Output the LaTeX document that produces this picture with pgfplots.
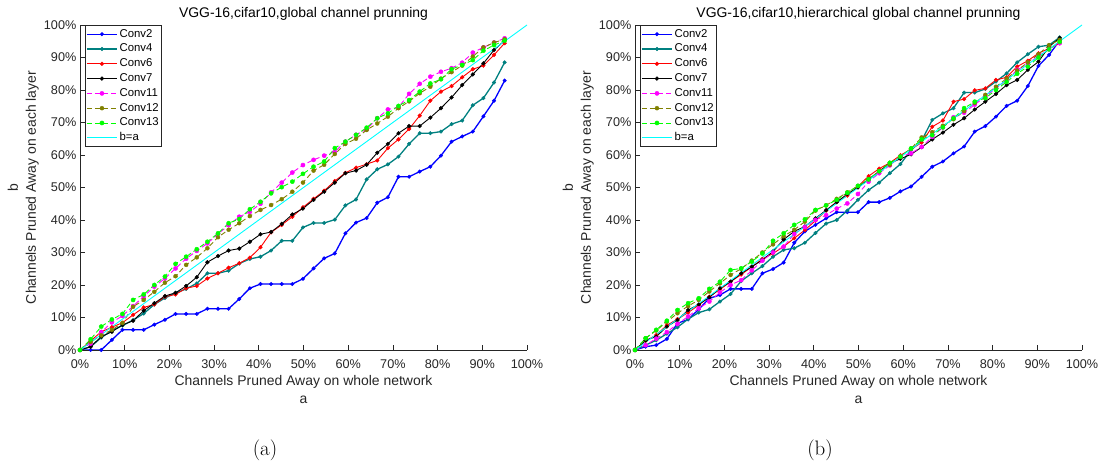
\documentclass[border=0pt]{standalone}
\usepackage{pgfplots}
\pgfplotsset{compat=1.18}
\usepackage{pgfplotstable}
\usepackage{fontspec}
\newfontfamily\arial{Liberation Sans}
\definecolor{axgray}{RGB}{38,38,38}
\definecolor{cteal}{RGB}{0,128,128}
\definecolor{colive}{RGB}{128,128,0}
\definecolor{cgreen}{RGB}{0,255,0}
\definecolor{cmag}{RGB}{255,0,255}
\definecolor{ccyan}{RGB}{0,255,255}

\pgfplotstableread{
x c2 c4 c6 c7 c11 c12 c13
0 0 0 0 0 0 0 0
2.375 0 1.0 2.8 1.0 2.0 2.5 3.3
4.75 0 3.8 5.6 4.1 5.5 4.5 7.2
7.125 3.1 6.0 7.0 5.6 8.5 6.2 9.4
9.5 6.2 7.5 8.4 7.7 10.5 8.3 11.1
11.875 6.2 9.2 10.8 9.0 13.5 13.3 15.4
14.25 6.2 11.2 13.1 12.1 16.5 15.4 17.1
16.625 7.8 14.0 14.0 14.4 19.5 17.9 20.0
19 9.3 16.0 16.4 16.6 22.0 20.7 22.6
21.375 11.1 17.5 17.1 17.6 25.1 22.7 26.5
23.75 11.1 18.8 19.0 19.7 28.1 26.2 28.7
26.125 11.1 20.5 19.7 22.4 30.5 28.5 31.0
28.5 12.7 23.6 22.0 27.0 32.8 31.3 33.3
30.875 12.7 23.6 23.6 28.9 35.7 34.7 35.9
33.25 12.7 24.4 25.3 30.6 38.4 37.0 39.0
35.625 15.7 26.6 26.7 31.2 41.0 39.0 40.3
38 19.0 28.0 28.4 33.3 42.5 41.2 43.3
40.375 20.3 28.7 31.6 35.6 45.0 43.1 45.6
42.75 20.3 30.6 36.2 36.3 48.5 44.6 48.2
45.125 20.3 33.6 38.5 38.8 51.5 46.4 50.1
47.5 20.3 33.6 41.0 41.7 54.6 48.7 51.8
49.875 21.9 37.7 43.9 43.5 56.9 51.5 54.2
52.25 25.1 39.1 46.5 46.2 58.5 55.2 56.4
54.625 28.2 39.1 49.0 48.7 59.8 57.0 58.0
57 29.7 40.1 52.0 51.5 61.0 60.3 62.1
59.375 35.9 44.5 54.5 54.4 64.1 63.4 64.1
61.75 39.2 46.3 56.1 55.2 66.2 65.0 66.2
64.125 40.6 52.5 57.2 57.0 67.9 67.7 68.4
66.5 45.3 55.6 58.3 60.7 71.3 69.7 71.3
68.875 47.0 57.1 62.1 63.4 74.0 71.8 72.8
71.25 53.3 59.5 64.8 66.7 74.7 74.4 75.1
73.625 53.3 63.4 68.0 68.9 78.8 76.5 76.9
76 54.9 66.7 72.1 68.9 81.9 79.0 79.5
78.375 56.4 66.7 76.7 71.5 84.1 81.0 82.0
80.75 59.8 67.2 79.5 74.4 85.6 83.5 83.3
83.125 64.1 69.5 81.2 77.7 86.7 85.5 86.4
85.5 65.7 70.6 83.9 81.5 88.4 87.5 87.7
87.875 67.2 75.3 86.4 84.8 91.5 90.3 89.2
90.25 71.9 77.5 87.5 88.2 93.1 93.1 92.1
92.625 76.7 82.3 90.8 92.3 94.6 94.6 93.8
95 82.9 88.5 94.4 95.2 95.9 95.6 95.2
}\leftdata

\pgfplotstableread{
x c2 c4 c6 c7 c11 c12 c13
0 0 0 0 0 0 0 0
2.375 1.0 1.5 2.8 3.0 1.5 3.6 3.6
4.75 1.5 3.0 4.6 4.1 3.5 6.0 6.2
7.125 3.4 5.0 7.6 7.2 5.5 8.7 9.0
9.5 8.2 7.0 9.5 9.2 8.0 11.3 12.3
11.875 9.4 9.5 11.5 12.3 10.3 13.5 14.4
14.25 12.5 11.5 13.8 14.0 12.8 15.4 15.9
16.625 15.9 12.5 16.4 16.2 14.9 18.0 18.8
19 16.9 14.9 18.6 19.0 17.7 20.5 21.0
21.375 18.8 17.2 21.0 21.0 20.0 23.1 24.6
23.75 18.8 21.2 23.2 23.6 21.5 25.0 25.1
26.125 18.8 23.6 25.6 25.6 24.5 27.5 27.2
28.5 23.6 25.8 28.0 27.7 27.5 30.0 29.7
30.875 24.9 28.7 29.7 30.3 30.0 32.5 33.6
33.25 26.9 30.8 31.8 34.0 31.8 35.0 35.9
35.625 33.0 31.3 34.4 36.5 35.7 37.0 38.5
38 36.5 33.0 36.9 38.0 37.8 39.5 40.2
40.375 38.5 36.0 39.8 40.5 40.0 42.9 43.1
42.75 40.5 38.9 42.9 43.0 41.5 44.5 44.5
45.125 42.4 40.0 45.6 45.5 43.5 46.5 46.2
47.5 42.4 42.9 47.5 48.0 45.1 48.5 48.4
49.875 42.4 46.2 50.3 50.0 48.0 50.5 50.5
52.25 45.5 49.2 53.5 52.5 51.8 52.5 52.5
54.625 45.5 51.5 55.8 55.0 54.4 55.0 55.0
57 46.8 54.4 57.6 57.5 56.8 57.0 57.6
59.375 48.8 57.2 59.9 58.8 59.5 59.5 59.5
61.75 50.3 61.5 61.8 60.2 60.5 62.0 62.0
64.125 53.3 64.4 63.8 62.4 62.5 65.4 64.8
66.5 56.4 70.8 68.7 64.8 65.6 67.0 66.1
68.875 58.0 72.8 70.6 66.9 68.5 69.0 68.5
71.25 60.5 74.4 76.4 69.3 71.6 71.0 71.3
73.625 62.6 79.2 77.2 71.3 73.0 73.5 74.4
76 67.2 79.2 79.9 74.0 75.5 76.0 76.4
78.375 68.9 80.3 80.5 76.4 78.0 78.5 77.5
80.75 71.8 82.6 83.1 78.8 80.5 81.0 80.0
83.125 75.1 85.1 83.9 81.5 83.0 83.5 82.5
85.5 76.7 88.5 87.2 83.1 86.2 86.0 85.0
87.875 81.2 91.0 89.0 86.2 88.0 88.5 87.2
90.25 87.4 93.3 91.3 88.7 90.5 91.0 90.0
92.625 90.8 93.8 92.8 93.3 92.5 93.8 92.5
95 95.2 96.2 94.4 96.0 94.4 95.4 94.8
}\rightdata

\pgfplotsset{
  panel/.style={
    scale only axis, width=447bp, height=325bp,
    xmin=0, xmax=100, ymin=0, ymax=100,
    axis x line*=bottom, axis y line*=left,
    axis line style={axgray, line width=0.8bp},
    tick align=inside, major tick length=5bp,
    tick style={axgray, line width=0.8bp},
    xtick={0,10,...,100}, ytick={0,10,...,100},
    /pgf/number format/assume math mode=true,
    xticklabel={\pgfmathprintnumber{\tick}\%},
    yticklabel={\pgfmathprintnumber{\tick}\%},
    ticklabel style={font=\fontsize{12.7}{14}\selectfont\arial, text=axgray, inner sep=0pt},
    xticklabel style={yshift=-9.4bp},
    yticklabel style={xshift=-3.5bp},
    every axis x label/.style={at={(axis description cs:0.5,-0.0785)}, anchor=north,
      font=\fontsize{14}{17.5}\selectfont\arial, text=axgray, inner sep=0pt, align=center},
    every axis y label/.style={at={(axis description cs:-0.0917,0.5)}, anchor=south, rotate=90,
      font=\fontsize{14}{18}\selectfont\arial, text=axgray, inner sep=0pt, align=center},
    every axis title/.style={at={(axis description cs:0.5,1)}, anchor=south, yshift=4bp,
      font=\fontsize{14}{17}\selectfont\arial, text=black, inner sep=0pt},
    xlabel={Channels Pruned Away on whole network\\a},
    ylabel={b\\Channels Pruned Away on each layer},
    legend cell align=left,
    legend image code/.code={\draw[mark repeat=2,mark phase=2,#1] plot coordinates {(0bp,0bp) (15bp,0bp) (30bp,0bp)};},
    legend style={at={(axis description cs:0.0112,1)}, anchor=north west,
      draw=axgray, line width=0.6bp, fill=white, inner xsep=1bp, inner ysep=1.5bp,
      font=\fontsize{11.4}{13}\selectfont\arial,
      nodes={inner sep=2bp, text height=8.3bp, text depth=2.5bp, text=black}},
  },
  sconv2/.style={color=blue, line width=1.3bp, mark=*, mark size=1.8bp, mark options={solid, fill=blue, line width=0.4bp}},
  sconv4/.style={color=cteal, line width=1.3bp, mark=*, mark size=1.8bp, mark options={solid, fill=cteal, line width=0.4bp}},
  sconv6/.style={color=red, line width=0.9bp, mark=*, mark size=1.9bp, mark options={solid, fill=red, line width=0.4bp}},
  sconv7/.style={color=black, line width=0.9bp, mark=*, mark size=1.9bp, mark options={solid, fill=black, line width=0.4bp}},
  sconv11/.style={color=cmag, line width=0.9bp, dash pattern=on 5bp off 3bp, mark=*, mark size=2.1bp, mark options={solid, fill=cmag, line width=0.4bp}},
  sconv12/.style={color=colive, line width=0.9bp, dash pattern=on 5bp off 3bp, mark=*, mark size=2.0bp, mark options={solid, fill=colive, line width=0.4bp}},
  sconv13/.style={color=cgreen, line width=0.9bp, dash pattern=on 5bp off 3bp, mark=*, mark size=2.1bp, mark options={solid, fill=cgreen, line width=0.4bp}},
  sdiag/.style={color=ccyan, line width=0.9bp, no marks},
}

\begin{document}
\begin{tikzpicture}[x=1bp,y=1bp]
\path (0,0) rectangle (1102,464);
\begin{axis}[panel, at={(80bp,114bp)}, anchor=south west,
  title={VGG-16,cifar10,global channel prunning}]
\addplot[sconv2] table[x=x,y=c2]{\leftdata};
\addlegendentry{Conv2}
\addplot[sconv4] table[x=x,y=c4]{\leftdata};
\addlegendentry{Conv4}
\addplot[sconv6] table[x=x,y=c6]{\leftdata};
\addlegendentry{Conv6}
\addplot[sconv7] table[x=x,y=c7]{\leftdata};
\addlegendentry{Conv7}
\addplot[sconv11] table[x=x,y=c11]{\leftdata};
\addlegendentry{Conv11}
\addplot[sconv12] table[x=x,y=c12]{\leftdata};
\addlegendentry{Conv12}
\addplot[sconv13] table[x=x,y=c13]{\leftdata};
\addlegendentry{Conv13}
\addplot[sdiag] coordinates {(0,0) (100,100)};
\addlegendentry{b=a}
\end{axis}
\begin{axis}[panel, at={(635bp,114bp)}, anchor=south west,
  title={VGG-16,cifar10,hierarchical global channel prunning}]
\addplot[sconv2] table[x=x,y=c2]{\rightdata};
\addlegendentry{Conv2}
\addplot[sconv4] table[x=x,y=c4]{\rightdata};
\addlegendentry{Conv4}
\addplot[sconv6] table[x=x,y=c6]{\rightdata};
\addlegendentry{Conv6}
\addplot[sconv7] table[x=x,y=c7]{\rightdata};
\addlegendentry{Conv7}
\addplot[sconv11] table[x=x,y=c11]{\rightdata};
\addlegendentry{Conv11}
\addplot[sconv12] table[x=x,y=c12]{\rightdata};
\addlegendentry{Conv12}
\addplot[sconv13] table[x=x,y=c13]{\rightdata};
\addlegendentry{Conv13}
\addplot[sdiag] coordinates {(0,0) (100,100)};
\addlegendentry{b=a}
\end{axis}
\node[font=\fontsize{21}{24}\selectfont] at (265,14) {(a)};
\node[font=\fontsize{21}{24}\selectfont] at (820,14) {(b)};
\end{tikzpicture}
\end{document}
